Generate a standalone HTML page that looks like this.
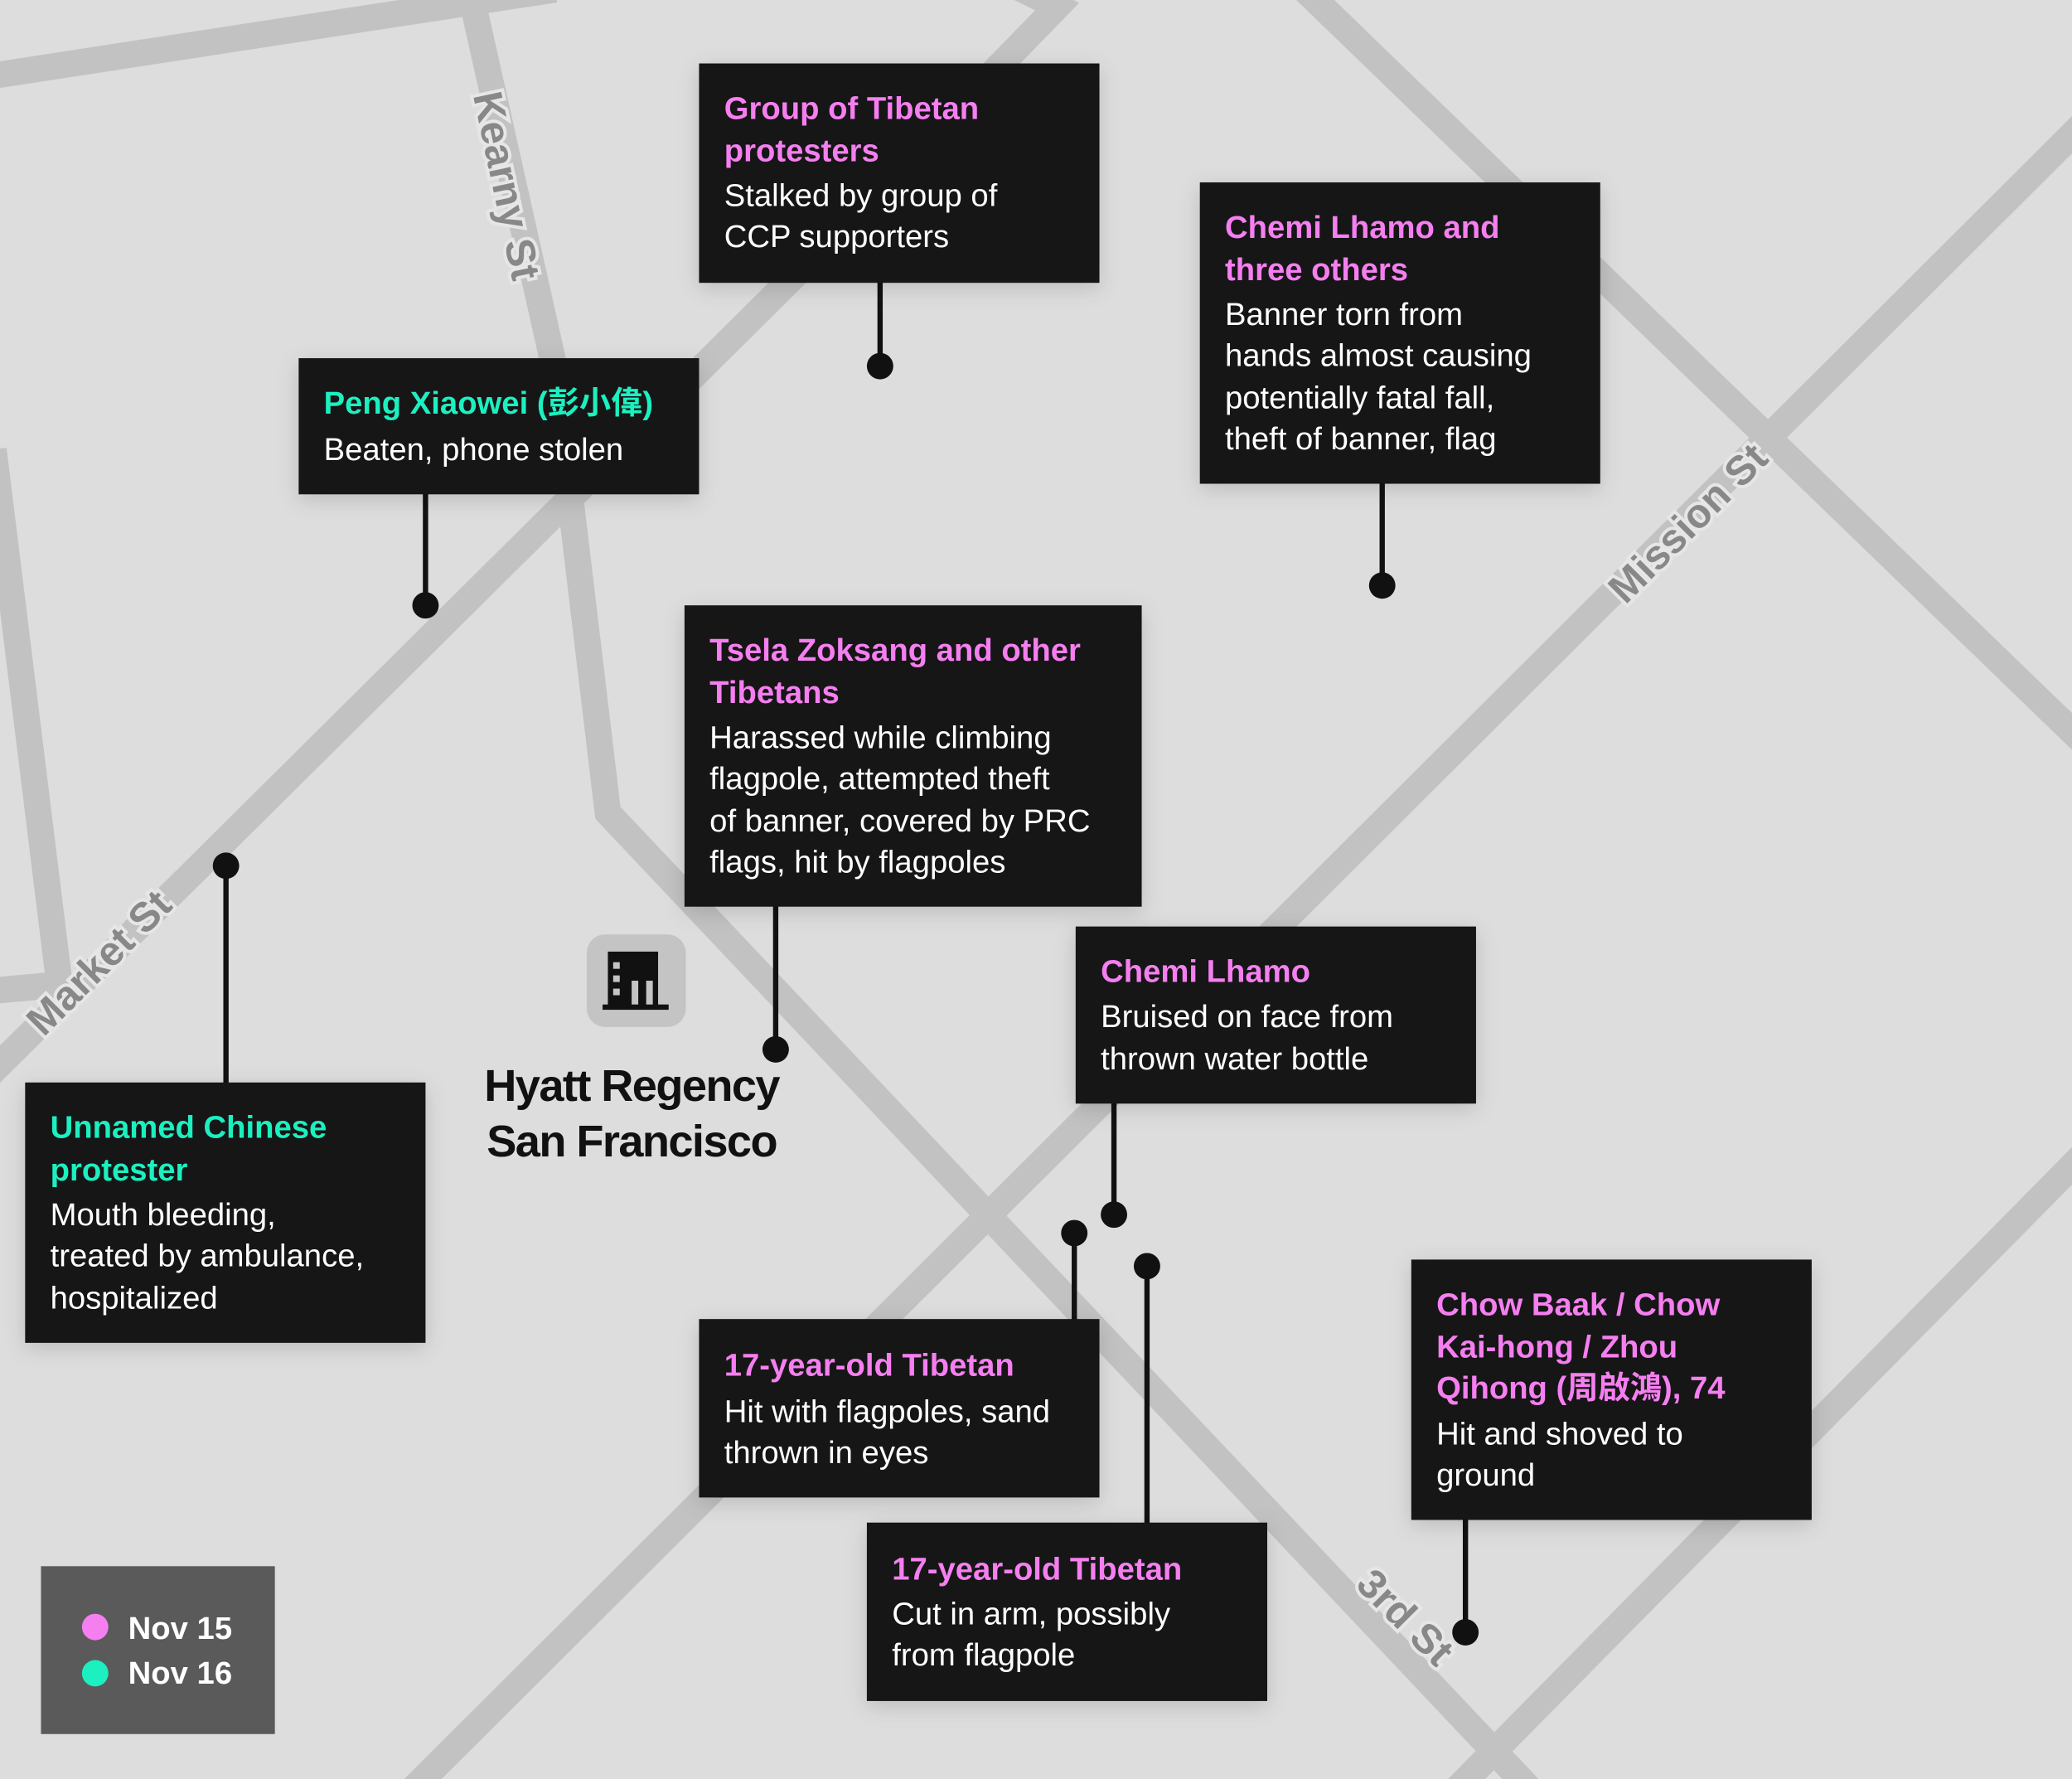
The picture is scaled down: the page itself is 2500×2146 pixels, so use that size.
<!DOCTYPE html>
<html><head><meta charset="utf-8">
<style>
html,body{margin:0;padding:0;background:#dddddd;}
svg{display:block;}
.t{font-family:"Liberation Sans","Noto Sans CJK SC",sans-serif;font-weight:bold;font-size:24px;}
.b{font-family:"Liberation Sans","Noto Sans CJK SC",sans-serif;font-size:24px;fill:#fff;}
.p{fill:#f57ff0;}
.g{fill:#1cf0c0;}
.st{font-family:"Liberation Sans",sans-serif;font-weight:bold;font-size:31px;fill:#888;stroke:#e6e6e6;stroke-width:5px;paint-order:stroke;}
</style></head>
<body>
<svg width="2500" height="2146" viewBox="0 0 1568 1346" xmlns="http://www.w3.org/2000/svg">
<defs>
<filter id="sh" x="-20%" y="-20%" width="140%" height="140%"><feDropShadow dx="0" dy="4" stdDeviation="8" flood-color="#000" flood-opacity="0.15"/></filter>
</defs>
<rect width="1568" height="1346" fill="#dddddd"/>
<g stroke="#c2c2c2" stroke-width="20" fill="none" stroke-linejoin="miter">
<path d="M-10,58 L420,-8"/>
<path d="M355,-10 L420,280 L460,615 L1160,1356"/>
<path d="M-10,815 L620,190 L800,5 L770,-10"/>
<path d="M-5,340 L45,745 L-10,750"/>
<path d="M1580,90 L310,1356"/>
<path d="M985,-10 L1580,565"/>
<path d="M1580,870 L1100,1356"/>
</g>
<g class="st">
<text transform="translate(358,72) rotate(78)">Kearny St</text>
<text transform="translate(33,785) rotate(-45)">Market St</text>
<text transform="translate(1230,458) rotate(-45)">Mission St</text>
<text transform="translate(1025,1200) rotate(45)">3rd St</text>
</g>
<g stroke="#111" stroke-width="4">
<line x1="666" y1="204" x2="666" y2="277"/>
<line x1="1046" y1="360" x2="1046" y2="443"/>
<line x1="322" y1="370" x2="322" y2="458"/>
<line x1="587" y1="680" x2="587" y2="794"/>
<line x1="843" y1="830" x2="843" y2="919"/>
<line x1="171" y1="655" x2="171" y2="825"/>
<line x1="813" y1="933" x2="813" y2="1017"/>
<line x1="868" y1="958" x2="868" y2="1158"/>
<line x1="1109" y1="1145" x2="1109" y2="1235"/>
</g>
<g fill="#111">
<circle cx="666" cy="277" r="10"/><circle cx="1046" cy="443" r="10"/><circle cx="322" cy="458" r="10"/>
<circle cx="587" cy="794" r="10"/><circle cx="843" cy="919" r="10"/><circle cx="171" cy="655" r="10"/>
<circle cx="813" cy="933" r="10"/><circle cx="868" cy="958" r="10"/><circle cx="1109" cy="1235" r="10"/>
</g>
<g fill="#141414" filter="url(#sh)">
<rect x="529" y="48" width="303" height="166"/>
<rect x="908" y="138" width="303" height="228"/>
<rect x="226" y="271" width="303" height="103"/>
<rect x="518" y="458" width="346" height="228"/>
<rect x="814" y="701" width="303" height="134"/>
<rect x="19" y="819" width="303" height="197"/>
<rect x="529" y="998" width="303" height="135"/>
<rect x="656" y="1152" width="303" height="135"/>
<rect x="1068" y="953" width="303" height="197"/>
</g>
<text class="t p" x="548" y="90">Group of Tibetan</text>
<text class="t p" x="548" y="122">protesters</text>
<text class="b" x="548" y="156">Stalked by group of</text>
<text class="b" x="548" y="187">CCP supporters</text>

<text class="t p" x="927" y="180">Chemi Lhamo and</text>
<text class="t p" x="927" y="212">three others</text>
<text class="b" x="927" y="246">Banner torn from</text>
<text class="b" x="927" y="277">hands almost causing</text>
<text class="b" x="927" y="309">potentially fatal fall,</text>
<text class="b" x="927" y="340">theft of banner, flag</text>

<text class="t g" x="245" y="313">Peng Xiaowei (彭小偉)</text>
<text class="b" x="245" y="348">Beaten, phone stolen</text>

<text class="t p" x="537" y="500">Tsela Zoksang and other</text>
<text class="t p" x="537" y="532">Tibetans</text>
<text class="b" x="537" y="566">Harassed while climbing</text>
<text class="b" x="537" y="597">flagpole, attempted theft</text>
<text class="b" x="537" y="629">of banner, covered by PRC</text>
<text class="b" x="537" y="660">flags, hit by flagpoles</text>

<text class="t p" x="833" y="743">Chemi Lhamo</text>
<text class="b" x="833" y="777">Bruised on face from</text>
<text class="b" x="833" y="809">thrown water bottle</text>

<text class="t g" x="38" y="861">Unnamed Chinese</text>
<text class="t g" x="38" y="893">protester</text>
<text class="b" x="38" y="927">Mouth bleeding,</text>
<text class="b" x="38" y="958">treated by ambulance,</text>
<text class="b" x="38" y="990">hospitalized</text>

<text class="t p" x="548" y="1041">17-year-old Tibetan</text>
<text class="b" x="548" y="1076">Hit with flagpoles, sand</text>
<text class="b" x="548" y="1107">thrown in eyes</text>

<text class="t p" x="675" y="1195">17-year-old Tibetan</text>
<text class="b" x="675" y="1229">Cut in arm, possibly</text>
<text class="b" x="675" y="1260">from flagpole</text>

<text class="t p" x="1087" y="995">Chow Baak / Chow</text>
<text class="t p" x="1087" y="1027">Kai-hong / Zhou</text>
<text class="t p" x="1087" y="1058">Qihong (周啟鴻), 74</text>
<text class="b" x="1087" y="1093">Hit and shoved to</text>
<text class="b" x="1087" y="1124">ground</text>

<rect x="444" y="707" width="75" height="70" rx="14" fill="#c4c4c4"/>
<g fill="#111">
<rect x="460" y="720" width="38" height="42"/>
<rect x="456" y="760" width="50" height="4"/>
</g>
<g fill="#c4c4c4">
<rect x="464" y="728" width="5" height="5"/><rect x="464" y="738" width="5" height="5"/><rect x="464" y="748" width="5" height="5"/>
<rect x="478" y="742" width="5" height="18"/><rect x="489" y="742" width="5" height="18"/>
</g>
<text x="478" y="833" text-anchor="middle" font-family="Liberation Sans,sans-serif" font-weight="bold" font-size="34" fill="#111" letter-spacing="-1">Hyatt Regency</text>
<text x="478" y="875" text-anchor="middle" font-family="Liberation Sans,sans-serif" font-weight="bold" font-size="34" fill="#111" letter-spacing="-1">San Francisco</text>

<rect x="31" y="1185" width="177" height="127" fill="#5a5a5a"/>
<circle cx="72" cy="1231" r="10" fill="#f57ff0"/>
<circle cx="72" cy="1266" r="10" fill="#1cf0c0"/>
<text class="t" x="97" y="1240" fill="#fff">Nov 15</text>
<text class="t" x="97" y="1274" fill="#fff">Nov 16</text>
</svg>
</body></html>
